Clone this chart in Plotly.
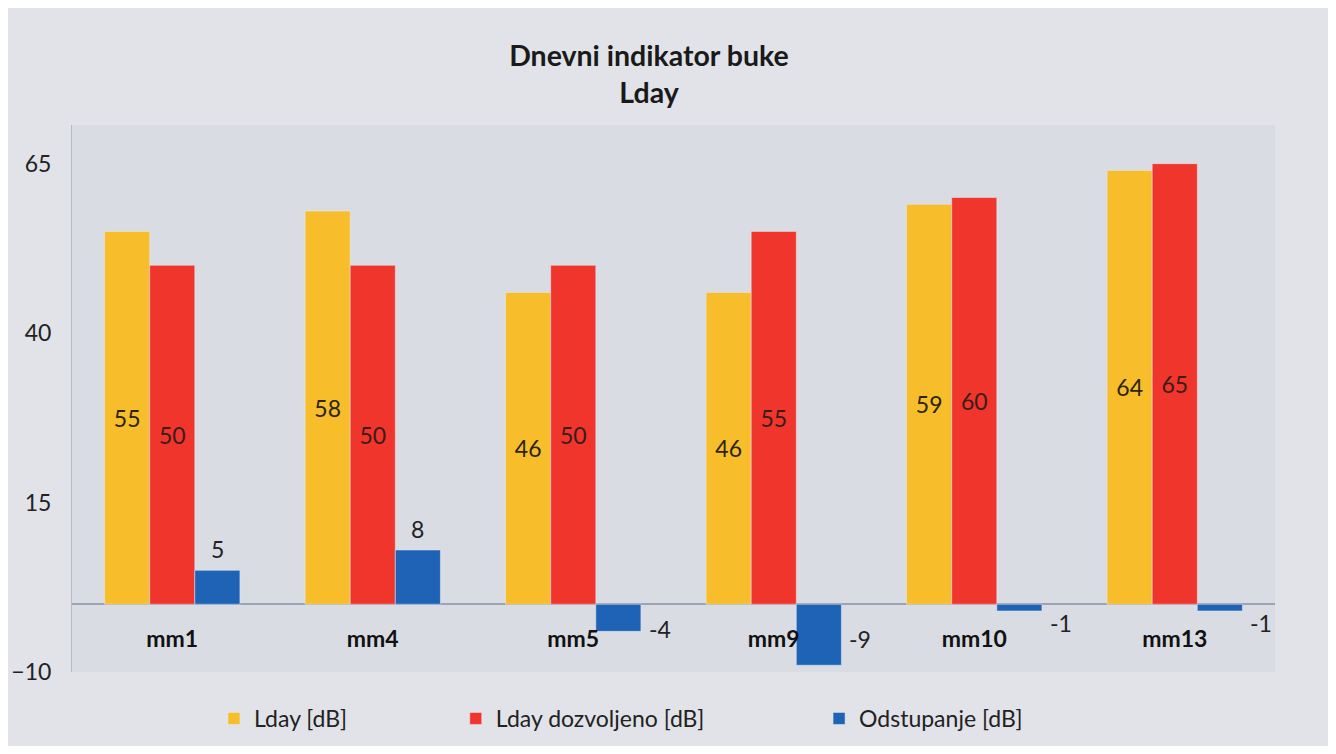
import plotly.graph_objects as go

categories = ["mm1", "mm4", "mm5", "mm9", "mm10", "mm13"]
lday = [55, 58, 46, 46, 59, 64]
lday_allowed = [50, 50, 50, 55, 60, 65]
deviation = [5, 8, -4, -9, -1, -1]
y_ticks = [-10, 15, 40, 65]

FONT = "Lato"
C_Y = "#f7bd2b"
C_R = "#f0362c"
C_B = "#1f63b6"

# page body has an 8px margin; figure sized/offset to compensate
W, H = 1320, 738
L, T = 64, 117
PLOT_W = 1203
R = W - L - PLOT_W
B = 74

fig = go.Figure()
fig.add_trace(go.Bar(
    x=categories, y=lday, name="Lday [dB]", marker_color=C_Y,
    text=[str(v) for v in lday], textposition="inside", insidetextanchor="middle",
    textangle=0, textfont=dict(color="#2a2410", size=23, family=FONT),
    legend="legend"))
fig.add_trace(go.Bar(
    x=categories, y=lday_allowed, name="Lday dozvoljeno [dB]", marker_color=C_R,
    text=[str(v) for v in lday_allowed], textposition="inside", insidetextanchor="middle",
    textangle=0, textfont=dict(color="#3a1c18", size=23, family=FONT),
    legend="legend2"))
fig.add_trace(go.Bar(
    x=categories, y=deviation, name="Odstupanje [dB]", marker_color=C_B,
    legend="legend3"))

bargap = 0.325
bw = (1 - bargap) / 3
for i, v in enumerate(deviation):
    xc = i + bw
    if v >= 0:
        fig.add_annotation(x=xc, y=v, xref="x", yref="y", text=str(v), showarrow=False,
                           yanchor="bottom", yshift=5,
                           font=dict(size=23, color="#222", family=FONT))
    else:
        fig.add_annotation(x=xc + bw / 2, y=v * 0.3 - 2.5, xref="x", yref="y", text=str(v),
                           showarrow=False, xanchor="left", xshift=6,
                           font=dict(size=23, color="#222", family=FONT))

ymin, ymax = -10, 70.7
zero_pos = (0 - ymin) / (ymax - ymin)

leg_common = dict(orientation="h", yanchor="middle", y=-0.085, xanchor="left",
                  font=dict(size=23, color="#222", family=FONT),
                  bgcolor="rgba(0,0,0,0)", itemwidth=30)

fig.update_layout(
    width=W, height=H,
    margin=dict(l=L, r=R, t=T, b=B, autoexpand=False),
    paper_bgcolor="#e1e3e8",
    plot_bgcolor="#d9dce2",
    barmode="group", bargap=bargap, bargroupgap=0,
    font=dict(family=FONT, color="#222"),
    title=dict(text="<b>Dnevni indikator buke<br>Lday</b>", x=0.4856, xanchor="center",
               y=0.922, yanchor="middle", font=dict(size=28.5, color="#1a1a1a", family=FONT)),
    legend=dict(**leg_common, x=0.118),
    legend2=dict(**leg_common, x=0.319),
    legend3=dict(**leg_common, x=0.621),
    showlegend=True,
    xaxis=dict(anchor="free", position=zero_pos, showline=False, showgrid=False,
               ticks="outside", ticklen=14, tickcolor="rgba(0,0,0,0)",
               tickfont=dict(size=23, color="#111", family=FONT, weight="bold")),
    yaxis=dict(range=[ymin, ymax], tickvals=y_ticks, showgrid=False,
               zeroline=True, zerolinecolor="#9da3b4", zerolinewidth=1.5,
               showline=True, linecolor="#b6bac6", linewidth=1,
               ticks="outside", ticklen=15, tickcolor="rgba(0,0,0,0)",
               tickfont=dict(size=23, color="#222", family=FONT)),
)

fig.write_html("out.html")
